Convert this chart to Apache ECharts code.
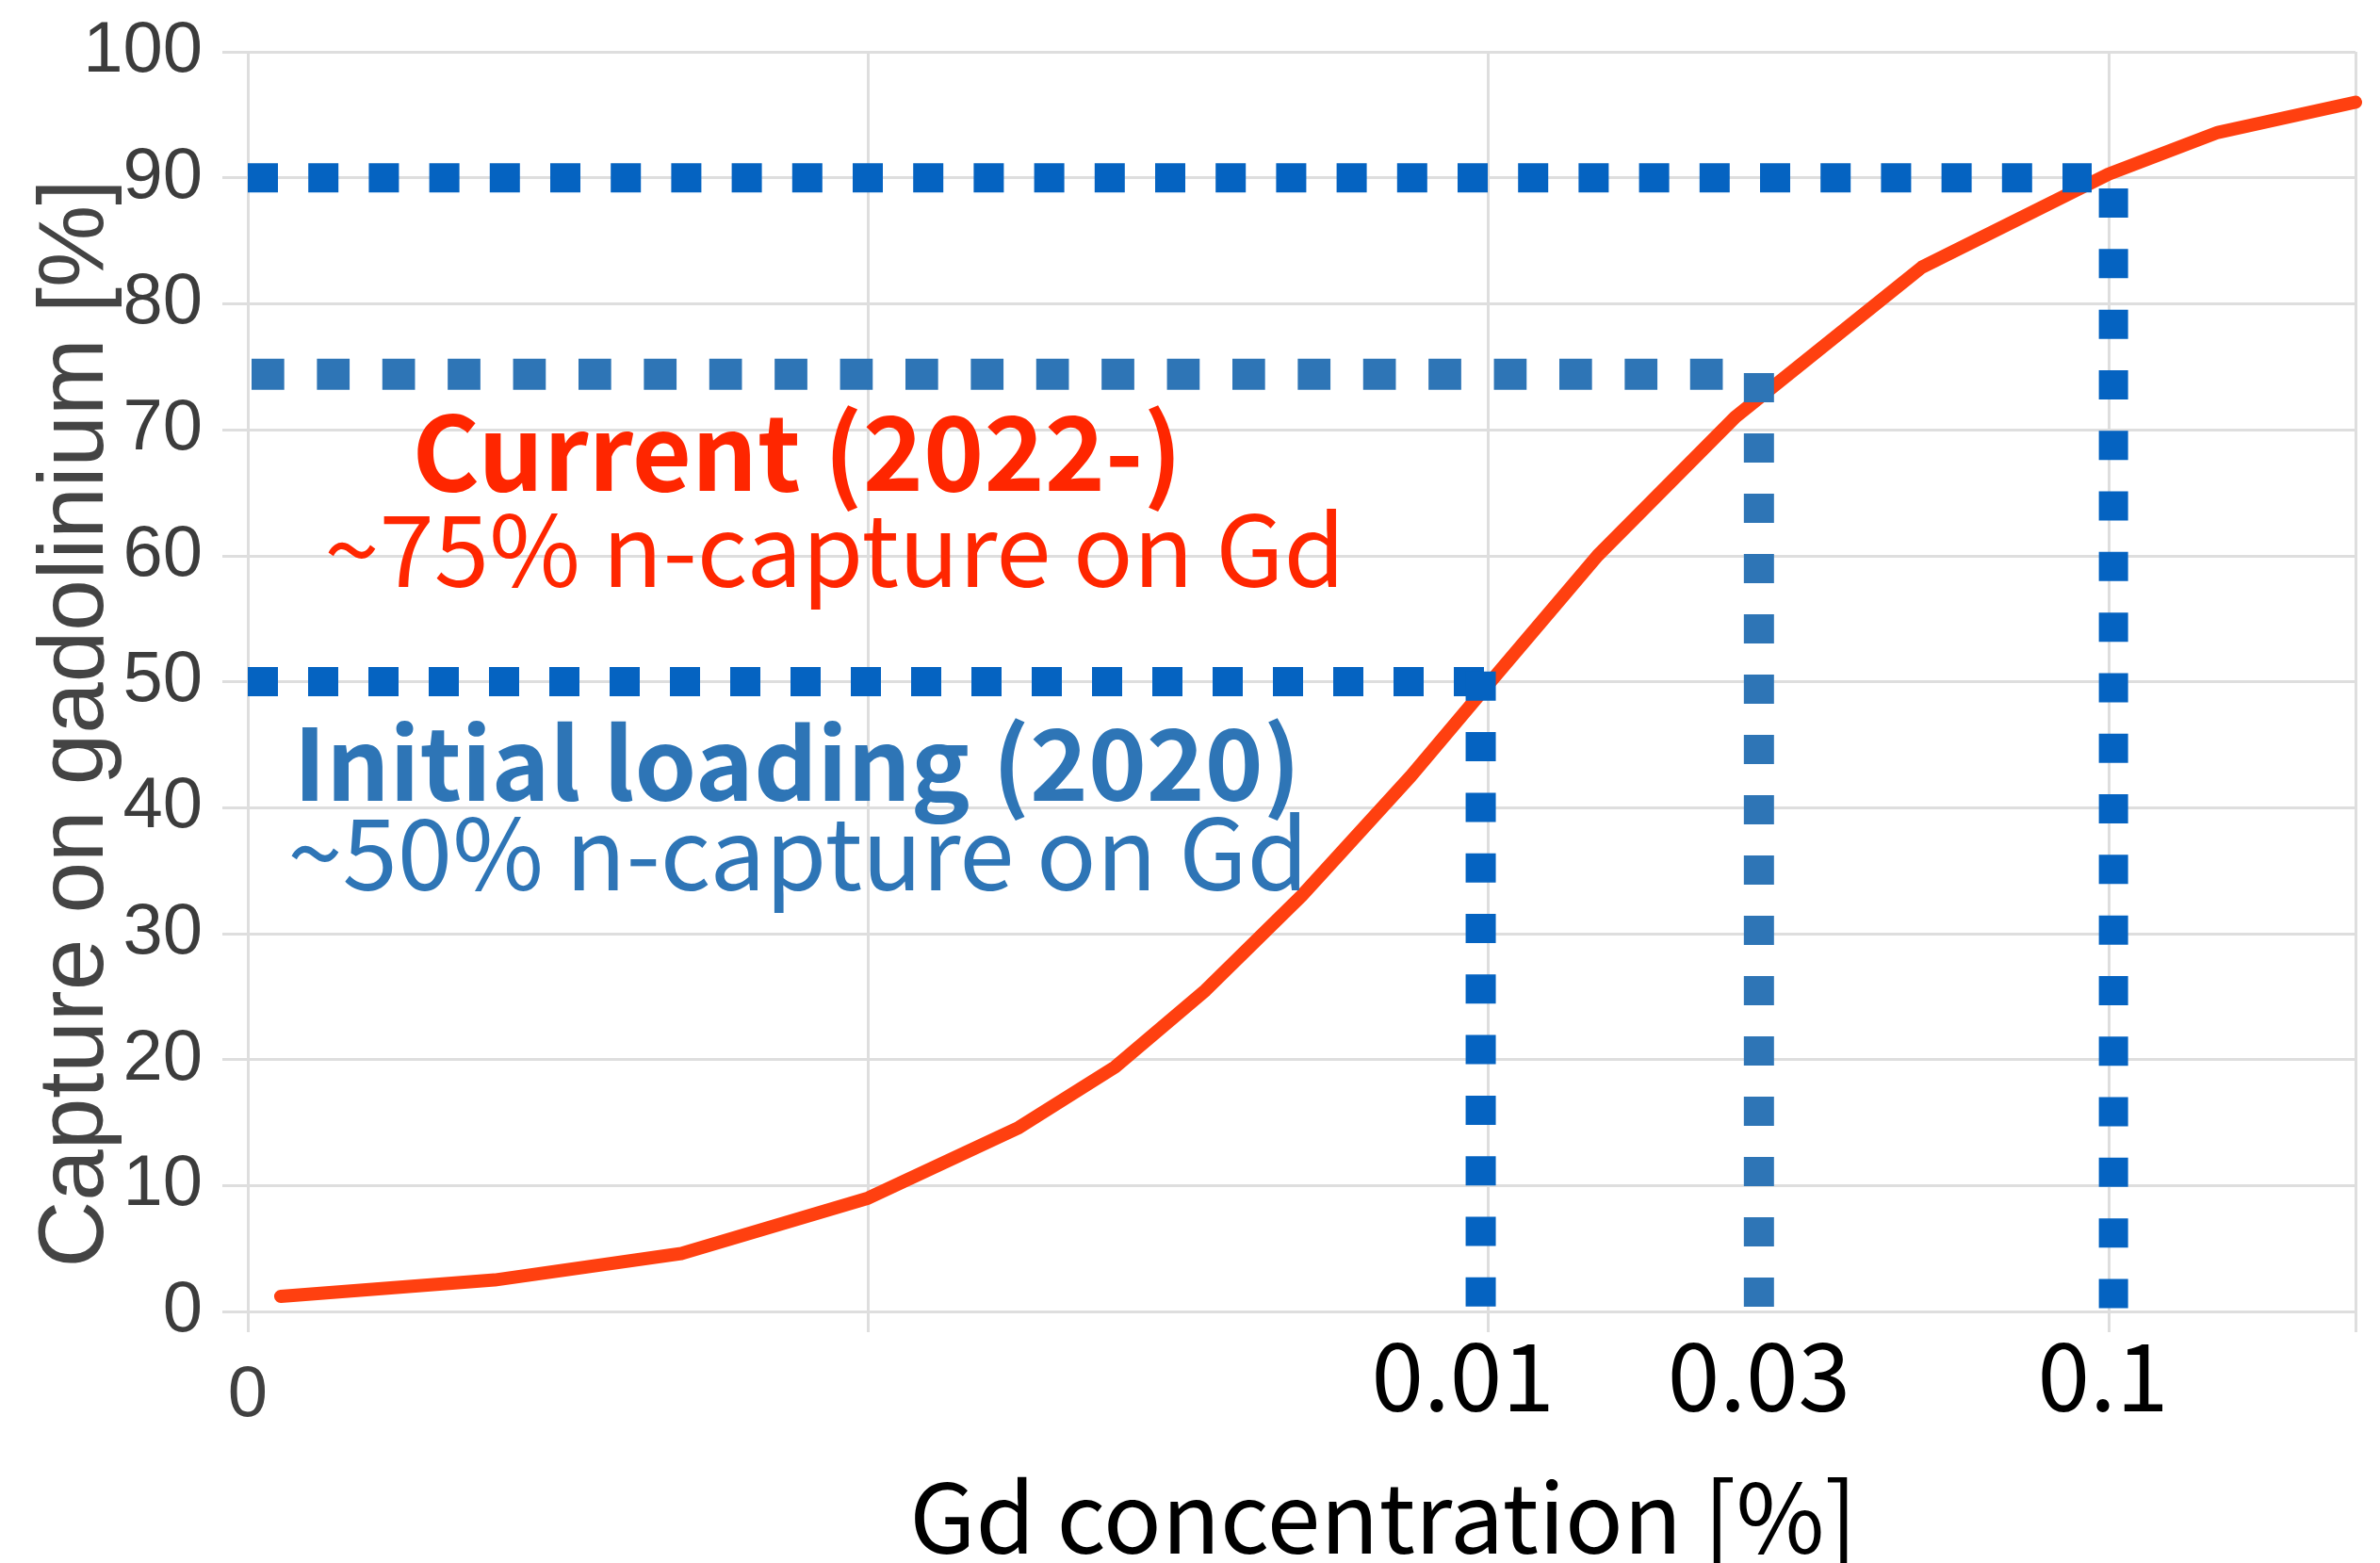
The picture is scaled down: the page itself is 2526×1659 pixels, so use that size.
<!DOCTYPE html>
<html><head><meta charset="utf-8">
<script src="https://cdn.jsdelivr.net/npm/echarts@6/dist/echarts.min.js"></script>
<style>html,body{margin:0;padding:0;background:#fff}#c{width:2526px;height:1659px}</style>
</head><body><div id="c"></div>
<script>
// Curve: Gd concentration [%] (log x) vs capture on gadolinium [%]
const gdConcentration = [0.000113, 0.00025, 0.0005, 0.001, 0.00175, 0.0025, 0.0035, 0.005, 0.0075, 0.01, 0.015, 0.025, 0.05, 0.1, 0.15, 0.25];
const captureOnGd     = [1.2, 2.5, 4.6, 9.0, 14.6, 19.4, 25.5, 33.0, 42.5, 49.8, 60.0, 71.0, 82.9, 90.3, 93.6, 96.0];

// Axis tick labels (x axis: log10 exponent -> text)
const xTickText = { '-4': '0', '-2': '0.01', '-1': '0.1' };
const xExtraLabel = [[0.0273, 0]];          // "0.03" marker label position (data space)
const xExtraText = ['0.03'];

// Hand-drawn dotted guide lines (data space)
const guide50H = [[0.0001, 50], [0.00993, 50]];
const guide50V = [[0.00972, 50.8], [0.00972, 0]];
const guide75H = [[0.0001014, 74.4], [0.02389, 74.4]];
const guide75V = [[0.0273, 74.5], [0.0273, 0]];
const guide90H = [[0.0001, 90], [0.0939, 90]];
const guide90V = [[0.1018, 89.15], [0.1018, 0]];

// Annotation texts
const annotations = [
  'Current (2022-)', '~75% n-capture on Gd',
  'Initial loading (2020)', '~50% n-capture on Gd'
];
const xTitle = 'Gd concentration [%]';
const yTitle = 'Capture on gadolinium [%]';

const GRID = '#dedede';
const DARK_BLUE = '#0563C1';
const MID_BLUE = '#2E75B6';
const RED_TEXT = '#FF2600';
const CURVE = '#FF4010';
const JP = '"Noto Sans CJK JP","Noto Sans",sans-serif';
const SANS = '"Liberation Sans",Arial,sans-serif';

const chart = echarts.init(document.getElementById('c'), null, {renderer: 'canvas'});

function guide(data, color, width, dash) {
  return {
    type: 'line', data: data, symbol: 'none', silent: true, z: 5,
    lineStyle: { color: color, width: width, type: dash, cap: 'butt' },
    animation: false
  };
}

const option = {
  animation: false,
  backgroundColor: '#ffffff',
  grid: { left: 263, right: 26, top: 55, bottom: 267, containLabel: false, outerBoundsMode: 'none' },
  xAxis: {
    type: 'log', logBase: 10, min: 0.0001, max: 0.25,
    axisLine: { show: true, lineStyle: { color: GRID, width: 3 } },
    axisTick: { show: true, length: 22, lineStyle: { color: GRID, width: 3 } },
    splitLine: { show: true, lineStyle: { color: GRID, width: 3 } },
    minorTick: { show: false },
    axisLabel: {
      interval: 0, margin: 18,
      formatter: function (v) {
        const e = Math.round(Math.log10(v) * 100) / 100;
        const key = String(Math.round(e));
        if (Math.abs(e - Math.round(e)) > 0.01 || !(key in xTickText)) return '';
        const t = xTickText[key];
        if (key === '-4') return '{g|' + t + '}';
        if (key === '-2') return '{k1|' + t + '}';
        return '{k|' + t + '}';
      },
      rich: {
        g: { fontFamily: SANS, fontSize: 76, color: '#404040', lineHeight: 144 },
        k: { fontFamily: JP, fontSize: 100, color: '#000', lineHeight: 100, padding: [0, 12, 0, 0] },
        k1: { fontFamily: JP, fontSize: 100, color: '#000', lineHeight: 100, padding: [0, 54, 0, 0] }
      }
    }
  },
  yAxis: {
    type: 'value', min: 0, max: 100, interval: 10,
    axisLine: { show: false },
    axisTick: { show: true, length: 27, lineStyle: { color: GRID, width: 3 } },
    splitLine: { show: true, lineStyle: { color: GRID, width: 3 } },
    axisLabel: { margin: 48, fontFamily: SANS, fontSize: 76, color: '#3c3c3c' }
  },
  series: [
    {
      type: 'line', name: 'capture', z: 3, symbol: 'none', smooth: false,
      data: gdConcentration.map((x, i) => [x, captureOnGd[i]]),
      lineStyle: { color: CURVE, width: 14, join: 'round', cap: 'round' }
    },
    guide(guide50H, DARK_BLUE, 31, [32, 32]),
    guide(guide50V, DARK_BLUE, 32, [31, 33.3]),
    guide(guide75H, MID_BLUE, 33, [34.7, 34.7]),
    guide(guide75V, MID_BLUE, 32, [31, 33]),
    guide(guide90H, DARK_BLUE, 31, [32, 32.2]),
    guide(guide90V, DARK_BLUE, 31, [31, 33.3]),
    {
      type: 'scatter', silent: true, symbolSize: 0, z: 6,
      itemStyle: { opacity: 1 },
      data: xExtraLabel,
      label: {
        show: true, position: 'bottom', distance: 18, opacity: 1,
        formatter: (p) => '{k|' + xExtraText[p.dataIndex] + '}',
        rich: { k: { fontFamily: JP, fontSize: 100, color: '#000', lineHeight: 100 } }
      }
    }
  ],
  graphic: [
    { type: 'text', x: 846, y: 480, z: 10, style: { text: annotations[0], fill: RED_TEXT, font: 'bold 109px ' + JP, align: 'center', verticalAlign: 'middle' } },
    { type: 'text', x: 886, y: 583, z: 10, style: { text: annotations[1], fill: RED_TEXT, font: '105px ' + JP, align: 'center', verticalAlign: 'middle' } },
    { type: 'text', x: 846, y: 810, z: 10, style: { text: annotations[2], fill: MID_BLUE, font: 'bold 105px ' + JP, align: 'center', verticalAlign: 'middle' } },
    { type: 'text', x: 847, y: 905, z: 10, style: { text: annotations[3], fill: MID_BLUE, font: '105px ' + JP, align: 'center', verticalAlign: 'middle' } },
    { type: 'text', x: 1468, y: 1610, z: 10, style: { text: xTitle, fill: '#000', font: '102px ' + JP, align: 'center', verticalAlign: 'middle' } },
    { type: 'text', x: 82, y: 768, rotation: Math.PI / 2, z: 10, style: { text: yTitle, fill: '#444', font: '98px ' + SANS, align: 'center', verticalAlign: 'middle' } }
  ]
};
chart.setOption(option);
</script>
</body></html>
